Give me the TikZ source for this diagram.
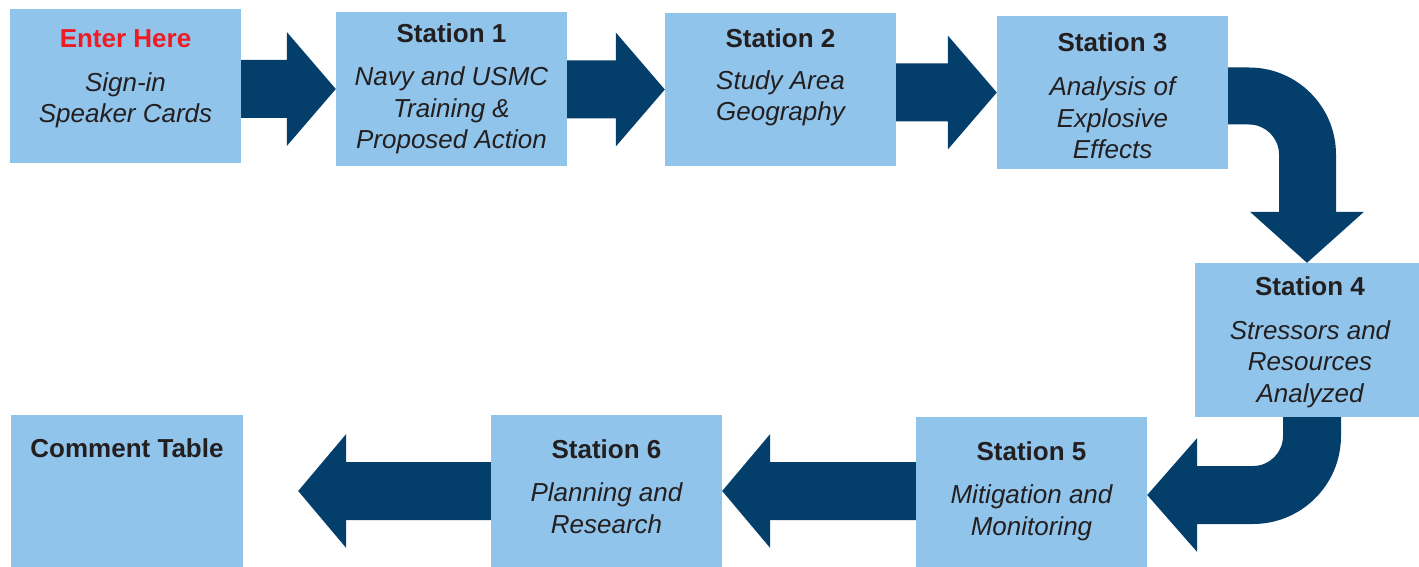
\documentclass[tikz,border=0pt]{standalone}
\usepackage{fontspec}
\setmainfont{Liberation Sans}
\usetikzlibrary{calc}
\definecolor{boxblue}{HTML}{91C4EB}
\definecolor{navy}{HTML}{043F6B}
\definecolor{ink}{HTML}{231F20}
\definecolor{enterred}{HTML}{ED1C24}
\tikzset{
  stationbox/.style={fill=boxblue, draw=none, inner sep=0pt, minimum width=231pt, minimum height=153pt},
  titletext/.style={anchor=base, text=ink, font=\fontsize{26}{31.5}\selectfont\bfseries, inner sep=0pt},
  bodytext/.style={anchor=base, text=ink, align=center, font=\fontsize{26}{31.5}\selectfont\itshape, inner sep=0pt},
  blockarrow/.style={fill=navy, draw=none}
}
% right-pointing block arrow: from #1 (source anchor) to #2 (target anchor)
\newcommand\rblock[2]{\fill[blockarrow] let \p1=(#1), \p2=(#2) in
  (\x1,\y2+29pt) -- (\x2-49pt,\y2+29pt) -- (\x2-49pt,\y2+57pt) -- (\x2,\y2)
  -- (\x2-49pt,\y2-57pt) -- (\x2-49pt,\y2-29pt) -- (\x1,\y2-29pt) -- cycle;}
% left-pointing block arrow: from #1 to #2, tip #3 to the right of #2
\newcommand\lblock[3]{\fill[blockarrow] let \p1=(#1), \p2=(#2) in
  (\x1,\y2+29pt) -- (\x2+#3+48pt,\y2+29pt) -- (\x2+#3+48pt,\y2+57pt) -- (\x2+#3,\y2)
  -- (\x2+#3+48pt,\y2-57pt) -- (\x2+#3+48pt,\y2-29pt) -- (\x1,\y2-29pt) -- cycle;}
\begin{document}
\begin{tikzpicture}[x=1pt,y=-1pt]
\useasboundingbox (0,0) rectangle (1419,567);
% boxes
\node[stationbox, minimum height=154pt] (e)  at (125.5,86) {};
\node[stationbox, minimum height=154pt] (s1) at (451.5,89) {};
\node[stationbox] (s2) at (780.5,89.5) {};
\node[stationbox] (s3) at (1112.5,92.5) {};
\node[stationbox, minimum width=224pt, minimum height=154pt] (s4) at (1307,340) {};
\node[stationbox, minimum height=150pt] (s5) at (1031.5,492) {};
\node[stationbox, minimum height=152pt] (s6) at (606.5,491) {};
\node[stationbox, minimum width=232pt, minimum height=152pt] (c) at (127,491) {};
% texts (body nodes are placed by the baseline of their last line)
\node[titletext, text=enterred] (et) at (125.5,48) {Enter Here};
\node[bodytext] (eb) at (125.5,123) {Sign-in\\Speaker Cards};
\node[titletext] (s1t) at (451.5,43) {Station 1};
\node[bodytext] (s1b) at (451.5,149) {Navy and USMC\\Training \&\\Proposed Action};
\node[titletext] (s2t) at (780.5,48) {Station 2};
\node[bodytext] (s2b) at (780.5,121) {Study Area\\Geography};
\node[titletext] (s3t) at (1112.5,52) {Station 3};
\node[bodytext] (s3b) at (1112.5,159) {Analysis of\\Explosive\\Effects};
\node[titletext] (s4t) at (1310,295) {Station 4};
\node[bodytext] (s4b) at (1310,402) {Stressors and\\Resources\\Analyzed};
\node[titletext] (s5t) at (1031.5,460) {Station 5};
\node[bodytext] (s5b) at (1031.5,535) {Mitigation and\\Monitoring};
\node[titletext] (s6t) at (606.5,458) {Station 6};
\node[bodytext] (s6b) at (606.5,533) {Planning and\\Research};
\node[titletext] (ct) at (127,457) {Comment Table};
% straight arrows
\rblock{e.east}{s1.west}
\rblock{s1.east}{s2.west}
\rblock{s2.east}{s3.west}
\lblock{s5.west}{s6.east}{0pt}
\lblock{s6.west}{c.east}{55pt}
% curved arrow station 3 -> station 4
\fill[blockarrow] let \p1=(s3.east), \p2=(s4.north) in
  (\x1,\y1+25pt) -- (\x2-58pt,\y1+25pt) arc[start angle=90, end angle=0, radius=87pt]
  -- (\x2+29pt,\y2+51pt) -- (\x2+57pt,\y2+51pt) -- (\x2,\y2) -- (\x2-57pt,\y2+51pt)
  -- (\x2-28pt,\y2+51pt) -- (\x2-28pt,\y1-62pt) arc[start angle=0, end angle=90, radius=30pt]
  -- (\x1,\y1-32pt) -- cycle;
% curved arrow station 4 -> station 5
\fill[blockarrow] let \p1=(s4.south), \p2=(s5.east) in
  (\x1-24pt,\y1) -- (\x1+34pt,\y1) -- (\x1+34pt,\y2+56pt) arc[start angle=0, end angle=-90, radius=88pt]
  -- (\x2+50pt,\y2-32pt) -- (\x2+50pt,\y2-60pt) -- (\x2,\y2-3pt) -- (\x2+50pt,\y2+54pt)
  -- (\x2+50pt,\y2+26pt) -- (\x1-54pt,\y2+26pt) arc[start angle=-90, end angle=0, radius=30pt]
  -- cycle;
\end{tikzpicture}
\end{document}
